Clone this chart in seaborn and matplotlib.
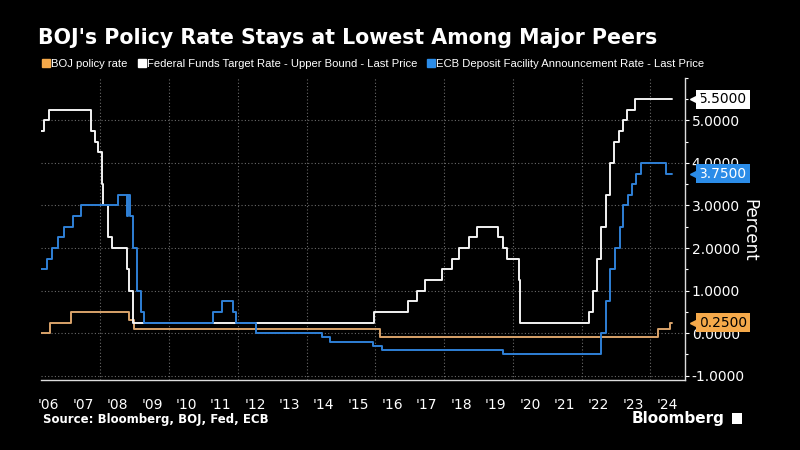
import pandas as pd
import numpy as np
import seaborn as sns
import matplotlib.pyplot as plt
import matplotlib.dates as mdates
from matplotlib.lines import Line2D
from matplotlib.ticker import FixedLocator, FormatStrFormatter, MultipleLocator

# rate changes (date the new level starts), last row = chart end
boj_dates = ['2006-04-12', '2006-07-14', '2007-02-21', '2008-10-31', '2008-12-19',
             '2016-02-16', '2024-03-19', '2024-07-31', '2024-08-20']
boj_rate = [0.0, 0.25, 0.5, 0.3, 0.1, -0.1, 0.1, 0.25, 0.25]

fed_dates = ['2006-04-12', '2006-05-10', '2006-06-29', '2007-09-18', '2007-10-31', '2007-12-11',
             '2008-01-22', '2008-01-30', '2008-03-18', '2008-04-30', '2008-10-08', '2008-10-29',
             '2008-12-16', '2015-12-16', '2016-12-14', '2017-03-15', '2017-06-14', '2017-12-13',
             '2018-03-21', '2018-06-13', '2018-09-26', '2018-12-19', '2019-07-31', '2019-09-18',
             '2019-10-30', '2020-03-03', '2020-03-15', '2022-03-16', '2022-05-04', '2022-06-15',
             '2022-07-27', '2022-09-21', '2022-11-02', '2022-12-14', '2023-02-01', '2023-03-22',
             '2023-05-03', '2023-07-26', '2024-08-20']
fed_rate = [4.75, 5.0, 5.25, 4.75, 4.5, 4.25, 3.5, 3.0, 2.25, 2.0, 1.5, 1.0, 0.25, 0.5, 0.75,
            1.0, 1.25, 1.5, 1.75, 2.0, 2.25, 2.5, 2.25, 2.0, 1.75, 1.25, 0.25, 0.5, 1.0, 1.75,
            2.5, 3.25, 4.0, 4.5, 4.75, 5.0, 5.25, 5.5, 5.5]

ecb_dates = ['2006-04-12', '2006-06-15', '2006-08-09', '2006-10-11', '2006-12-13', '2007-03-14',
             '2007-06-13', '2008-07-09', '2008-10-09', '2008-10-15', '2008-11-12', '2008-12-10',
             '2009-01-21', '2009-03-11', '2009-04-08', '2011-04-13', '2011-07-13', '2011-11-09',
             '2011-12-14', '2012-07-11', '2014-06-11', '2014-09-10', '2015-12-09', '2016-03-16',
             '2019-09-18', '2022-07-27', '2022-09-14', '2022-11-02', '2022-12-21', '2023-02-08',
             '2023-03-22', '2023-05-10', '2023-06-21', '2023-08-02', '2023-09-20', '2024-06-12',
             '2024-08-20']
ecb_rate = [1.5, 1.75, 2.0, 2.25, 2.5, 2.75, 3.0, 3.25, 2.75, 3.25, 2.75, 2.0, 1.0, 0.5, 0.25,
            0.5, 0.75, 0.5, 0.25, 0.0, -0.1, -0.2, -0.3, -0.4, -0.5, 0.0, 0.75, 1.5, 2.0, 2.5,
            3.0, 3.25, 3.5, 3.75, 4.0, 3.75, 3.75]

names = ['BOJ policy rate',
         'Federal Funds Target Rate - Upper Bound - Last Price',
         'ECB Deposit Facility Announcement Rate - Last Price']
line_colors = ['#d9a36a', '#f2f2f2', '#2f80d6']
tag_colors = ['#f5a94a', '#ffffff', '#2b8ce8']
tag_text = ['#000000', '#000000', '#ffffff']
year_labels = ["'%02d" % (y % 100) for y in range(2006, 2025)]
yticks = [-1, 0, 1, 2, 3, 4, 5]

frames = []
for name, d, r in zip(names, [boj_dates, fed_dates, ecb_dates], [boj_rate, fed_rate, ecb_rate]):
    frames.append(pd.DataFrame({'date': pd.to_datetime(d), 'rate': r, 'series': name}))
df = pd.concat(frames, ignore_index=True)

sns.set_style('dark', rc={'axes.facecolor': 'black', 'figure.facecolor': 'black'})
plt.rcParams['font.family'] = ['DejaVu Sans']

fig = plt.figure(figsize=(8, 4.5), dpi=100, facecolor='black')
ax = fig.add_axes([0.0516, 0.1556, 0.8043, 0.6717])
ax.set_facecolor('black')

sns.lineplot(data=df, x='date', y='rate', hue='series', hue_order=names,
             palette=dict(zip(names, line_colors)), drawstyle='steps-post',
             linewidth=1.4, legend=False, ax=ax)

ax.set_xlim(pd.Timestamp('2006-04-12'), pd.Timestamp('2025-01-01'))
ax.set_ylim(-1.1, 6.0)

# y axis on the right
ax.yaxis.tick_right()
ax.yaxis.set_major_locator(FixedLocator(yticks))
ax.yaxis.set_major_formatter(FormatStrFormatter('%.4f'))
ax.yaxis.set_minor_locator(MultipleLocator(0.5))
ax.tick_params(axis='y', which='both', colors='white', labelsize=10, length=3, width=0.8,
               direction='out', pad=2, left=False, right=True)
ax.tick_params(axis='y', which='minor', length=2)
ax.set_ylabel('Percent', color='white', fontsize=12, rotation=270, va='center')
ax.yaxis.set_label_position('right')
ax.yaxis.set_label_coords(1.114, 0.496)

# x axis: ticks at year starts, labels mid-year
ax.xaxis.set_major_locator(mdates.YearLocator(1))
ax.xaxis.set_major_formatter(plt.NullFormatter())
ax.xaxis.set_minor_locator(FixedLocator(mdates.date2num(
    [pd.Timestamp('%d-07-01' % y) for y in range(2006, 2025)])))
ax.xaxis.set_minor_formatter(plt.FixedFormatter(year_labels))
ax.tick_params(axis='x', which='major', length=22, width=0.8, color='#bbbbbb', direction='out')
ax.tick_params(axis='x', which='minor', length=0, pad=13, labelsize=10, labelcolor='white')
ax.set_xlabel('')

ax.grid(False)
ax.yaxis.grid(True, which='major', linestyle=(0, (1, 2)), color='#6a6a6a', linewidth=0.8)
for yr in range(2008, 2025, 2):
    ax.axvline(pd.Timestamp('%d-01-01' % yr), linestyle=(0, (1, 2)), color='#6a6a6a',
               linewidth=0.8, zorder=0)

for side in ['left', 'top']:
    ax.spines[side].set_visible(False)
for side in ['right', 'bottom']:
    ax.spines[side].set_visible(True)
    ax.spines[side].set_color('#dddddd')
    ax.spines[side].set_linewidth(1.0)

# last value tags
trans = ax.get_yaxis_transform()
for name, tc, txc in zip(names, tag_colors, tag_text):
    last = df[df['series'] == name]['rate'].iloc[-1]
    ax.text(1.022, last, '%.4f' % last, transform=trans, fontsize=10, color=txc,
            va='center', ha='left', clip_on=False, zorder=5,
            bbox=dict(boxstyle='square,pad=0.18', fc=tc, ec='none'))
    ax.plot([1.016], [last], marker='<', markersize=7.5, color=tc, transform=trans,
            clip_on=False, zorder=5)

# title, legend, footer
fig.text(0.047, 0.915, "BOJ's Policy Rate Stays at Lowest Among Major Peers",
         fontsize=14.8, fontweight='bold', color='white', va='center', ha='left')
handles = [Line2D([], [], marker='s', linestyle='none', markersize=6, color=c)
           for c in tag_colors]
fig.legend(handles, names, loc='center left', bbox_to_anchor=(0.053, 0.858), ncol=3,
           frameon=False, labelcolor='white', handletextpad=0.1,
           columnspacing=0.9, borderaxespad=0, borderpad=0, handlelength=0.7,
           prop={'family': ['Liberation Sans', 'DejaVu Sans'], 'size': 8.1})
fig.text(0.054, 0.067, 'Source: Bloomberg, BOJ, Fed, ECB', fontsize=8.5,
         fontweight='bold', color='white', va='center', ha='left')
fig.text(0.906, 0.071, 'Bloomberg', fontsize=11, fontweight='bold', color='white',
         va='center', ha='right')
fig.patches.append(plt.Rectangle((0.915, 0.058), 0.012, 0.025, transform=fig.transFigure,
                                 fc='white', ec='none', figure=fig))

fig.savefig('out.png', dpi=100, facecolor='black')
